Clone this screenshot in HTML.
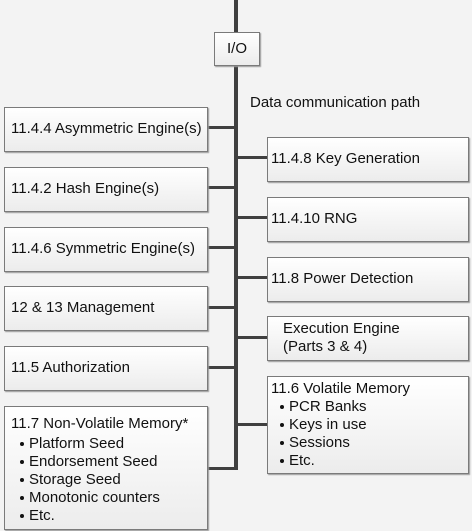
<!DOCTYPE html>
<html><head><style>
html,body{margin:0;padding:0;width:472px;height:531px;background:#f3f3f3;overflow:hidden}
body{position:relative;font-family:"Liberation Sans",Arial,sans-serif;font-size:15px;color:#111}
.b{position:absolute;box-sizing:border-box;border:1px solid #7a7a7a;background:linear-gradient(#ffffff,#ececec);box-shadow:1px 1px 1px #999}
.t{position:absolute;left:6px;white-space:nowrap}
.l{position:absolute;background:#3f3f3f}
ul{margin:0;padding:0;list-style:none}
li{line-height:18px;height:18px;position:relative;padding-left:22px}
li:before{content:"";position:absolute;left:13px;top:7px;width:4px;height:4px;border-radius:50%;background:#111}
</style></head><body>
<div class="l" style="left:234px;top:0;width:4px;height:470px"></div>
<div class="b" style="left:214px;top:32px;width:46px;height:34px;text-align:center;line-height:32px">I/O</div>
<div style="position:absolute;left:250px;top:94px">Data communication path</div>

<div class="l" style="left:206px;top:126px;width:30px;height:3px"></div>
<div class="l" style="left:206px;top:186px;width:30px;height:3px"></div>
<div class="l" style="left:206px;top:246px;width:30px;height:3px"></div>
<div class="l" style="left:206px;top:306px;width:30px;height:3px"></div>
<div class="l" style="left:206px;top:366px;width:30px;height:3px"></div>
<div class="l" style="left:206px;top:467px;width:30px;height:3px"></div>
<div class="l" style="left:236px;top:156px;width:32px;height:3px"></div>
<div class="l" style="left:236px;top:216px;width:32px;height:3px"></div>
<div class="l" style="left:236px;top:276px;width:32px;height:3px"></div>
<div class="l" style="left:236px;top:336px;width:32px;height:3px"></div>
<div class="l" style="left:236px;top:423px;width:32px;height:3px"></div>

<div class="b" style="left:4px;top:107px;width:204px;height:45px"><span class="t" style="top:12px">11.4.4 Asymmetric Engine(s)</span></div>
<div class="b" style="left:4px;top:167px;width:204px;height:45px"><span class="t" style="top:12px">11.4.2 Hash Engine(s)</span></div>
<div class="b" style="left:4px;top:227px;width:204px;height:45px"><span class="t" style="top:12px">11.4.6 Symmetric Engine(s)</span></div>
<div class="b" style="left:4px;top:286px;width:204px;height:45px"><span class="t" style="top:12px">12 &amp; 13 Management</span></div>
<div class="b" style="left:4px;top:346px;width:204px;height:45px"><span class="t" style="top:12px">11.5 Authorization</span></div>
<div class="b" style="left:4px;top:406px;width:204px;height:124px"><div class="t" style="top:8px;line-height:18px">11.7 Non-Volatile Memory*<ul style="margin-left:-4px;margin-top:2px">
<li>Platform Seed</li><li>Endorsement Seed</li><li>Storage Seed</li><li>Monotonic counters</li><li>Etc.</li></ul></div></div>

<div class="b" style="left:267px;top:137px;width:202px;height:45px"><span class="t" style="top:12px;left:3px">11.4.8 Key Generation</span></div>
<div class="b" style="left:267px;top:197px;width:202px;height:45px"><span class="t" style="top:12px;left:3px">11.4.10 RNG</span></div>
<div class="b" style="left:267px;top:257px;width:202px;height:45px"><span class="t" style="top:12px;left:3px">11.8 Power Detection</span></div>
<div class="b" style="left:267px;top:316px;width:202px;height:45px"><span class="t" style="top:3px;left:15px;line-height:18px">Execution Engine<br>(Parts 3 &amp; 4)</span></div>
<div class="b" style="left:267px;top:376px;width:202px;height:98px"><div class="t" style="top:3px;left:3px;line-height:18px">11.6 Volatile Memory<ul style="margin-left:-4px">
<li>PCR Banks</li><li>Keys in use</li><li>Sessions</li><li>Etc.</li></ul></div></div>
</body></html>
